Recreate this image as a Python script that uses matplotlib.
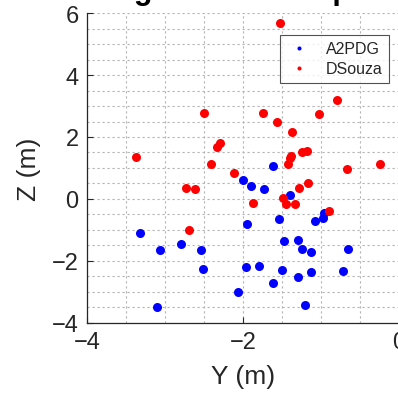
import matplotlib
matplotlib.use("Agg")
import matplotlib.pyplot as plt
from matplotlib.ticker import MultipleLocator

plt.rcParams['font.family'] = ['Liberation Sans', 'DejaVu Sans']

# A2PDG positions (Y, Z)
a2pdg_y = [-1.62, -2.00, -1.90, -1.73, -1.40, -0.96, -0.98, -1.08, -1.95, -1.535,
           -1.48, -1.295, -1.25, -1.13, -0.66, -1.96, -1.80, -1.50, -1.13, -0.72,
           -1.30, -1.61, -2.06, -1.20, -3.325, -3.07, -2.79, -2.54, -2.51, -3.10]
a2pdg_z = [1.07, 0.61, 0.42, 0.33, 0.13, -0.46, -0.62, -0.70, -0.82, -0.65,
           -1.35, -1.31, -1.61, -1.70, -1.61, -2.18, -2.16, -2.29, -2.35, -2.31,
           -2.52, -2.70, -3.01, -3.41, -1.11, -1.66, -1.45, -1.65, -2.26, -3.47]

# DSouza positions (Y, Z)
dsouza_y = [-1.526, -0.80, -1.74, -1.02, -2.50, -1.56, -1.37, -2.295, -2.337, -1.185,
            -1.25, -1.385, -1.40, -1.42, -3.376, -2.41, -2.115, -0.67, -0.24, -2.73,
            -2.62, -1.49, -1.28, -1.17, -1.45, -1.33, -1.87, -0.90, -2.69]
dsouza_z = [5.68, 3.19, 2.76, 2.75, 2.76, 2.49, 2.15, 1.81, 1.69, 1.56,
            1.51, 1.38, 1.31, 1.14, 1.345, 1.13, 0.85, 0.96, 1.13, 0.35,
            0.32, 0.04, 0.35, 0.53, -0.15, -0.15, -0.13, -0.39, -1.01]

fig = plt.figure(figsize=(3.98, 4.06), dpi=100)
ax = fig.add_axes([0.2186, 0.202, 0.784, 0.7635])

ax.plot(a2pdg_y, a2pdg_z, 'o', color='#0000ff', ms=6.5, mec='none', label='A2PDG')
ax.plot(dsouza_y, dsouza_z, 'o', color='#ff0000', ms=6.5, mec='none', label='DSouza')

ax.set_xlim(-4, 0)
ax.set_ylim(-4, 6)
ax.xaxis.set_major_locator(MultipleLocator(2))
ax.yaxis.set_major_locator(MultipleLocator(2))
ax.xaxis.set_minor_locator(MultipleLocator(0.5))
ax.yaxis.set_minor_locator(MultipleLocator(0.5))
ax.grid(True, which='both', linestyle=(0, (2, 2.5)), color='#b4b4b4', linewidth=0.8)
ax.set_axisbelow(True)

ax.spines['top'].set_visible(False)
ax.spines['right'].set_visible(False)
for s in ['left', 'bottom']:
    ax.spines[s].set_color('#262626')
    ax.spines[s].set_linewidth(0.9)
ax.tick_params(which='major', direction='in', length=4, labelsize=17,
               colors='#262626', pad=6)
ax.tick_params(which='minor', direction='in', length=0)

ax.set_xlabel('Y (m)', fontsize=19, color='#262626', labelpad=8)
ax.set_ylabel('Z (m)', fontsize=19, color='#262626', labelpad=8)

# title sits above the picture, only its descenders show
fig.text(0.59, 1 + 0.5 / 406, 'Tracking results comparison', ha='center',
         va='baseline', fontsize=22, fontweight='bold', color='black')

leg = ax.legend(loc='upper right', bbox_to_anchor=(389 / 398, 1 - 36 / 406),
                bbox_transform=fig.transFigure, borderaxespad=0, fontsize=11.5,
                fancybox=False, markerscale=0.45, handlelength=1.6,
                handletextpad=0.9, borderpad=0.4, labelspacing=0.3)
leg.get_frame().set_edgecolor('#262626')
leg.get_frame().set_linewidth(0.8)
for t in leg.get_texts():
    t.set_color('#262626')

fig.savefig('out.png', dpi=100)
